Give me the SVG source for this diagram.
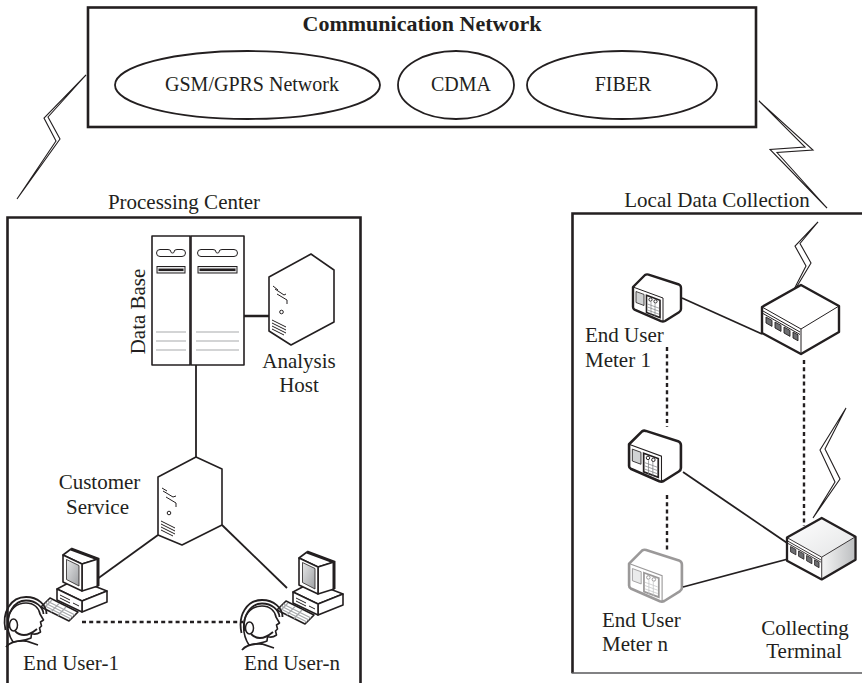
<svg xmlns="http://www.w3.org/2000/svg" xmlns:xlink="http://www.w3.org/1999/xlink" width="862" height="683" viewBox="0 0 862 683">
  <defs>
    <style>
      .t { font-family: "Liberation Serif", "Times New Roman", serif; font-size: 21px; fill: #231f20; }
      .tb { font-family: "Liberation Serif", "Times New Roman", serif; font-size: 22px; font-weight: bold; fill: #231f20; }
      .te { font-family: "Liberation Serif", "Times New Roman", serif; font-size: 20px; fill: #231f20; }
      .frame { fill: none; stroke: #231f20; stroke-width: 2.6; }
      .ell { fill: none; stroke: #231f20; stroke-width: 1.8; }
      .ln { fill: none; stroke: #231f20; stroke-width: 1.8; }
      .thick { fill: none; stroke: #231f20; stroke-width: 2.6; }
      .dot { fill: none; stroke: #231f20; stroke-width: 2.4; stroke-dasharray: 4 3.2; }
      .bolt { fill: #ffffff; stroke: #231f20; stroke-width: 1.1; stroke-linejoin: miter; stroke-miterlimit: 20; }
      .dev { fill: #ffffff; stroke: #231f20; stroke-width: 1.6; stroke-linejoin: round; }
      .devB { fill: #ffffff; stroke: #231f20; stroke-width: 2.4; stroke-linejoin: round; }
      .gry { fill: none; stroke: #a7a9ac; stroke-width: 1.2; }
      .fine { fill: none; stroke: #231f20; stroke-width: 1; }
    </style>
    <linearGradient id="screen" x1="0" y1="0" x2="1" y2="1">
      <stop offset="0" stop-color="#e6e7e8"/>
      <stop offset="1" stop-color="#9d9fa2"/>
    </linearGradient>
    <linearGradient id="shadeTop" x1="0" y1="0" x2="1" y2="1">
      <stop offset="0" stop-color="#ffffff"/>
      <stop offset="1" stop-color="#e3e4e5"/>
    </linearGradient>
    <linearGradient id="shadeSide" x1="0" y1="0" x2="1" y2="0">
      <stop offset="0" stop-color="#f4f4f4"/>
      <stop offset="1" stop-color="#bcbec0"/>
    </linearGradient>

    <!-- isometric utility meter, drawn in local units -->
    <g id="meter">
      <path class="devB" d="M1,16 L13,4 Q14.5,3 16.5,3.6 L47,13.5 Q49,14.4 49,17 L49,38 Q49,40 47,41.2 L33,50 Q31,51 29,50.2 L2.5,38.6 Q1,37.8 1,36 Z"/>
      <path class="fine" d="M1.5,16.2 L31,27 L31,50" stroke-width="1.6"/>
      <polygon points="4,20.5 12,23.4 12,34.5 4,31.5" fill="#d1d3d4" stroke="#231f20" stroke-width="0.8"/>
      <polygon points="14.5,24.3 28,29.2 28,46.5 14.5,41.5" fill="#ffffff" stroke="#231f20" stroke-width="1.6"/>
      <circle cx="18.5" cy="28.6" r="1.6" fill="none" stroke="#231f20" stroke-width="0.9"/>
      <circle cx="23.5" cy="30.4" r="1.6" fill="none" stroke="#231f20" stroke-width="0.9"/>
      <path d="M15.5,33 L27,37.2 M15.5,36 L27,40.2 M15.5,39 L27,43.2 M19,30.8 L19,43.5 M23,32.3 L23,45" stroke="#808285" stroke-width="0.7" fill="none"/>
    </g>

    <!-- desktop workstation with operator -->
    <g id="workstation">
      <!-- base unit -->
      <polygon class="dev" points="57,589 76,579 107,591 82,601"/>
      <polygon class="dev" points="82,601 107,591 107,602 82,612"/>
      <polygon class="dev" points="57,589 82,601 82,612 57,600"/>
      <path class="fine" d="M60,595 L70,600 M60,598 L70,603 M73,603 L79,606" stroke-width="1.2"/>
      <!-- monitor -->
      <polygon class="dev" points="63,555 71,549 98,559 82,564"/>
      <polygon class="dev" points="82,564 98,559 98,586 82,591"/>
      <polygon class="dev" points="63,555 82,564 82,591 63,582"/>
      <path d="M71,549 L98,559 L98,586" fill="none" stroke="#231f20" stroke-width="3"/>
      <polygon points="66.5,559.5 79,565.5 79,586 66.5,579.5" fill="url(#screen)" stroke="#231f20" stroke-width="0.8"/>
      <!-- keyboard -->
      <polygon class="dev" points="41,607 50,598 78,612 69,621" stroke-width="1.3"/>
      <path class="gry" d="M45,603 L73,617 M47,601 L75,615 M43,605 L71,619 M52,600 L44,608 M59,603.5 L51,612 M66,607 L58,615.5" stroke-width="0.8"/>
      <!-- operator head with headset -->
      <path class="dev" d="M13,642 C9,636 7,628 8,620 C9,609 17,603 26,603 C34,603 39,608 40,614 L43.5,620 L40.5,622 L41.5,626 L39.5,628 L40.5,632 C37,634.5 34,634.5 31.5,633.5 L31,638 C27,640 19,641 13,642 Z"/>
      <path class="ln" d="M5.5,630 C1.5,612 11,597 26,597 C38,597 46.5,605 46.5,614" stroke-width="1.6"/>
      <path class="ln" d="M8.5,628 C6,614 14,600.5 26,600.5 C36,600.5 43,607 43.5,614" stroke-width="1.4"/>
      <ellipse cx="13.5" cy="625" rx="4" ry="6" fill="#ffffff" stroke="#231f20" stroke-width="1.5"/>
      <path class="ln" d="M15,631 Q24,640 37,629" stroke-width="1.4"/>
      <path class="ln" d="M6,647 C10,642 18,640.5 26,641 L38,645" stroke-width="1.6"/>
    </g>
  </defs>

  <rect width="862" height="683" fill="#ffffff"/>

  <!-- communication network -->
  <g id="comm-network">
    <rect class="frame" x="88" y="7.5" width="668" height="119.5" stroke-width="3"/>
    <text class="tb" x="422" y="31" text-anchor="middle">Communication Network</text>
  </g>
  <g id="gsm">
    <ellipse class="ell" cx="247.5" cy="85" rx="132.5" ry="34"/>
    <text class="te" x="252" y="91" text-anchor="middle">GSM/GPRS Network</text>
  </g>
  <g id="cdma">
    <ellipse class="ell" cx="456" cy="85" rx="58" ry="34"/>
    <text class="te" x="461" y="91" text-anchor="middle">CDMA</text>
  </g>
  <g id="fiber">
    <ellipse class="ell" cx="622" cy="85" rx="95" ry="34"/>
    <text class="te" x="623" y="91" text-anchor="middle">FIBER</text>
  </g>

  <!-- processing center frame -->
  <g id="processing-center">
    <path class="frame" d="M7.5,683 L7.5,217.5 L360.5,217.5 L360.5,683"/>
    <text class="t" x="184" y="209" text-anchor="middle">Processing Center</text>
  </g>

  <!-- local data collection frame (runs past the right edge) -->
  <g id="local-data-collection">
    <path class="frame" d="M864,213.5 L572.5,213.5 L572.5,673"/>
    <line x1="571.5" y1="673" x2="864" y2="673" stroke="#58595b" stroke-width="1.6"/>
    <text class="t" x="717" y="207" text-anchor="middle">Local Data Collection</text>
  </g>

  <!-- connectors -->
  <g id="connectors">
    <!-- wireless links to the network -->
    <polygon class="bolt" points="86,75 44,118 56,141 17,199 60,139 48,117"/>
    <polygon class="bolt" points="759,101 813,150 777,152.5 827,208 770,149.5 805,147"/>

    <!-- processing center links -->
    <line class="thick" x1="243" y1="316" x2="276" y2="316"/>
    <line class="ln" x1="196" y1="365" x2="196" y2="457"/>
    <line class="ln" x1="158" y1="535" x2="82" y2="590"/>
    <line class="ln" x1="222" y1="525" x2="287" y2="588"/>
    <line class="dot" x1="82" y1="622" x2="243" y2="622" stroke-width="2"/>

    <!-- meter links -->
    <line class="ln" x1="682" y1="298" x2="762" y2="334"/>
    <line class="ln" x1="683" y1="472" x2="793" y2="547"/>
    <line class="ln" x1="683" y1="587" x2="788" y2="559"/>
    <line class="dot" x1="667" y1="347" x2="667" y2="427"/>
    <line class="dot" x1="667" y1="495" x2="667" y2="550"/>
    <line class="dot" x1="804" y1="360" x2="804" y2="526"/>
  </g>

  <!-- database rack -->
  <g id="data-base">
    <rect class="dev" x="152" y="236" width="38" height="129" stroke-width="1.4"/>
    <rect class="dev" x="191" y="236" width="53" height="129" stroke-width="1.4"/>
    <path class="fine" d="M160,249.5 L168,249.5 Q171,249.5 171,252 Q171,253 172.5,253 Q174,253 174,252 Q174,249.5 177,249.5 L182,249.5 Q185.5,249.5 185.5,253 Q185.5,256.5 182,256.5 L160,256.5 Q156.5,256.5 156.5,253 Q156.5,249.5 160,249.5 Z" stroke-width="1.3"/>
    <path class="fine" d="M201,249.5 L213,249.5 Q216,249.5 216,252 Q216,253 217.5,253 Q219,253 219,252 Q219,249.5 222,249.5 L234,249.5 Q237.5,249.5 237.5,253 Q237.5,256.5 234,256.5 L201,256.5 Q197.5,256.5 197.5,253 Q197.5,249.5 201,249.5 Z" stroke-width="1.3"/>
    <rect x="157" y="266.5" width="28" height="6.5" fill="#e6e7e8" stroke="#231f20" stroke-width="1"/>
    <line x1="158.5" y1="269.8" x2="183.5" y2="269.8" stroke="#231f20" stroke-width="2.4"/>
    <rect x="198" y="266.5" width="39" height="6.5" fill="#e6e7e8" stroke="#231f20" stroke-width="1"/>
    <line x1="199.5" y1="269.8" x2="235.5" y2="269.8" stroke="#231f20" stroke-width="2.4"/>
    <path class="gry" d="M156,332 L186,332 M156,341 L186,341 M156,350 L186,350 M196,332 L239,332 M196,341 L239,341 M196,350 L239,350"/>
    <text class="t" transform="translate(145,311.5) rotate(-90)" text-anchor="middle">Data Base</text>
  </g>

  <!-- analysis host -->
  <g id="analysis-host">
    <polygon class="dev" points="311,254 334,270 334,322 291,345 269,331 269,277" stroke-width="2"/>
    <path class="fine" d="M273,286 L278,290 M275,289 L284,295 L286,294 M277,294 L287,300 L287,304" stroke-width="1.4"/>
    <circle cx="281.5" cy="312" r="1.8" fill="none" stroke="#231f20" stroke-width="1"/>
    <path class="fine" d="M272,320 L286,327 M272,323 L286,330 M272,326 L286,333 M272,329 L284,335" stroke-width="1.1"/>
    <text class="t" x="299" y="368" text-anchor="middle">Analysis</text>
    <text class="t" x="299" y="392" text-anchor="middle">Host</text>
  </g>

  <!-- customer service -->
  <g id="customer-service">
    <polygon class="dev" points="196,457 222,469 222,525 182,545 158,535 158,477" stroke-width="2"/>
    <path class="fine" d="M162,488 L167,491 M163,491 L173,497 L176,496 M166,497 L176,503 L176,507" stroke-width="1.4"/>
    <circle cx="169" cy="513" r="1.8" fill="none" stroke="#231f20" stroke-width="1"/>
    <path class="fine" d="M161,521 L175,528 M161,524 L175,531 M161,527 L175,534 M161,530 L173,536" stroke-width="1.1"/>
    <text class="t" x="99.5" y="489" text-anchor="middle">Customer</text>
    <text class="t" x="97.5" y="514" text-anchor="middle">Service</text>
  </g>

  <!-- end users -->
  <g id="end-user-1">
    <use xlink:href="#workstation"/>
    <text class="t" x="71" y="670" text-anchor="middle">End User-1</text>
  </g>
  <g id="end-user-n">
    <use xlink:href="#workstation" transform="translate(236,3)"/>
    <text class="t" x="292" y="670" text-anchor="middle">End User-n</text>
  </g>

  <!-- meters -->
  <g id="meter-1">
    <use xlink:href="#meter" transform="translate(632,271)"/>
    <text class="t" x="585" y="342">End User</text>
    <text class="t" x="585" y="367">Meter 1</text>
  </g>
  <g id="meter-2">
    <use xlink:href="#meter" transform="translate(628,427) scale(1.08)"/>
  </g>
  <g id="meter-n" opacity="0.45">
    <use xlink:href="#meter" transform="translate(628,546) scale(1.1)"/>
  </g>
  <g id="meter-n-label">
    <text class="t" x="602" y="627">End User</text>
    <text class="t" x="602" y="651">Meter n</text>
  </g>

  <!-- concentrator with antenna -->
  <g id="concentrator">
    <polygon class="bolt" points="818,222 795,246 806,266 787,303 811,263 800,243.5"/>
    <g transform="translate(762,285)">
      <polygon class="devB" points="0,22 39,0 77,21 77,47 39,69 0,48"/>
      <path class="fine" d="M0,22 L39,44 L39,69 M39,44 L77,21" stroke-width="1.8"/>
      <path class="fine" d="M1,26 L38,47 M1,28.5 L38,49.5" stroke-width="1.1"/>
      <g fill="#6d6e71" stroke="#231f20" stroke-width="0.9">
        <polygon points="4,32 10,35.4 10,41.4 4,38"/>
        <polygon points="13,37 19,40.4 19,46.4 13,43"/>
        <polygon points="22,42 28,45.4 28,51.4 22,48"/>
        <polygon points="31,47 36,49.8 36,55.8 31,53"/>
      </g>
    </g>
  </g>

  <!-- collecting terminal with antenna -->
  <g id="collecting-terminal">
    <polygon class="bolt" points="846,408 820,450 835,482 813,518 840,479 825,449"/>
    <g transform="translate(787,518) scale(0.89)">
      <polygon points="0,22 39,0 77,21 39,44" fill="url(#shadeTop)"/>
      <polygon points="39,44 77,21 77,47 39,69" fill="url(#shadeSide)"/>
      <polygon points="0,22 39,44 39,69 0,48" fill="#ffffff"/>
      <polygon points="0,22 39,0 77,21 77,47 39,69 0,48" fill="none" stroke="#231f20" stroke-width="2.6" stroke-linejoin="round"/>
      <path class="fine" d="M0,22 L39,44 L39,69 M39,44 L77,21" stroke-width="1.8"/>
      <path class="fine" d="M1,26 L38,47 M1,28.5 L38,49.5" stroke-width="1.1"/>
      <g fill="#6d6e71" stroke="#231f20" stroke-width="0.9">
        <polygon points="4,32 10,35.4 10,41.4 4,38"/>
        <polygon points="13,37 19,40.4 19,46.4 13,43"/>
        <polygon points="22,42 28,45.4 28,51.4 22,48"/>
        <polygon points="31,47 36,49.8 36,55.8 31,53"/>
      </g>
    </g>
    <text class="t" x="805" y="635" text-anchor="middle">Collecting</text>
    <text class="t" x="804" y="658" text-anchor="middle">Terminal</text>
  </g>
</svg>
